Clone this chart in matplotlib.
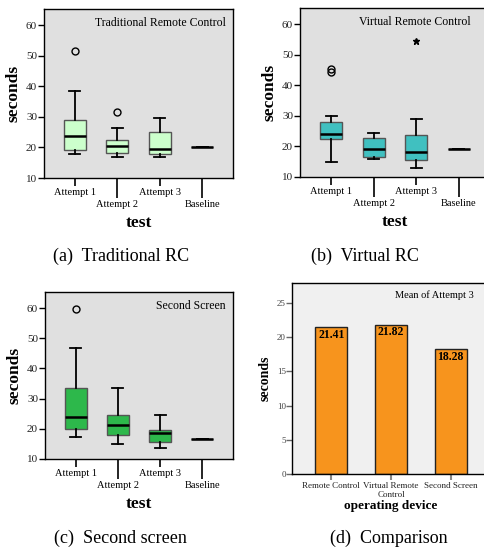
import matplotlib
matplotlib.use("Agg")
import matplotlib.pyplot as plt

plt.rcParams['font.family'] = ['Liberation Serif', 'DejaVu Serif']

W, H = 485, 554

# box statistics: whislo, q1, med, q3, whishi
groups = ['Attempt 1', 'Attempt 2', 'Attempt 3', 'Baseline']

trad_stats = [(17.8, 19.0, 23.8, 28.9, 38.4), (16.9, 18.2, 20.4, 22.3, 26.5),
              (16.9, 18.0, 19.4, 25.1, 29.5), (20.3, 20.3, 20.3, 20.3, 20.3)]
trad_out = [[51.5], [31.5], [], []]
trad_ext = [[], [], [], []]

virt_stats = [(14.8, 22.3, 24.1, 28.0, 29.8), (15.8, 16.7, 19.2, 22.9, 24.3),
              (13.0, 15.4, 18.2, 23.6, 28.9), (19.2, 19.2, 19.2, 19.2, 19.2)]
virt_out = [[45.3, 44.3], [], [], []]
virt_ext = [[], [], [54.5], []]

sec_stats = [(17.3, 20.0, 24.0, 33.4, 46.8), (15.0, 17.8, 21.1, 24.5, 33.4),
             (13.6, 15.5, 18.6, 19.6, 24.7), (16.5, 16.5, 16.5, 16.5, 16.5)]
sec_out = [[59.8], [], [], []]
sec_ext = [[], [], [], []]

devices = ['Remote Control', 'Virtual Remote\nControl', 'Second Screen']
mean_att3 = [21.41, 21.82, 18.28]

fig = plt.figure(figsize=(W / 100, H / 100), dpi=100)


def px_axes(l, t, r, b):
    return fig.add_axes([l / W, 1 - b / H, (r - l) / W, (b - t) / H])


def box_panel(ax, stats, outs, exts, color, title):
    ax.set_facecolor('#e0e0e0')
    bx = []
    for s, o in zip(stats, outs):
        bx.append(dict(whislo=s[0], q1=s[1], med=s[2], q3=s[3], whishi=s[4], fliers=o))
    ax.bxp(bx, positions=[1, 2, 3, 4], widths=0.52, patch_artist=True,
           boxprops=dict(facecolor=color, edgecolor='#555555', linewidth=1.0),
           medianprops=dict(color='black', linewidth=1.8),
           whiskerprops=dict(color='black', linewidth=1.3),
           capprops=dict(color='black', linewidth=1.3),
           capwidths=0.26,
           flierprops=dict(marker='o', markerfacecolor='none', markeredgecolor='black',
                           markersize=5, markeredgewidth=1.0))
    for i, e in enumerate(exts):
        if e:
            ax.plot([i + 1] * len(e), e, linestyle='none', marker='*', color='black',
                    markersize=4.5)
    ax.set_xlim(0.27, 4.73)
    ax.set_ylim(10, 65.3)
    ax.set_yticks([10, 20, 30, 40, 50, 60])
    ax.tick_params(axis='y', length=4.5, width=1.0, labelsize=8, pad=0.5,
                   labelcolor='#222222')
    ax.set_xticks([1, 3], [groups[0], groups[2]])
    ax.set_xticks([2, 4], [groups[1], groups[3]], minor=True)
    ax.tick_params(axis='x', which='major', length=6, width=1.2, labelsize=7.5, pad=1.5)
    ax.tick_params(axis='x', which='minor', length=14.5, width=1.2, labelsize=7.5, pad=1.5)
    ax.set_ylabel('seconds', fontsize=12.5, fontweight='bold', labelpad=3)
    ax.set_xlabel('test', fontsize=12.5, fontweight='bold', labelpad=4)
    ax.text(0.96, 0.95, title, transform=ax.transAxes, ha='right', va='top', fontsize=8.5)
    for sp in ax.spines.values():
        sp.set_linewidth(1.0)


ax_a = px_axes(44, 9, 233, 178)
box_panel(ax_a, trad_stats, trad_out, trad_ext, '#ccffcc', 'Traditional Remote Control')

ax_b = px_axes(300, 8, 490, 177)
box_panel(ax_b, virt_stats, virt_out, virt_ext, '#40c0c0', 'Virtual Remote Control')
ax_b.texts[0].set_position((0.9, 0.95))

ax_c = px_axes(45, 292, 233, 459)
box_panel(ax_c, sec_stats, sec_out, sec_ext, '#2db84b', 'Second Screen')

# comparison bars
ax_d = px_axes(292, 283, 490, 474)
ax_d.set_facecolor('#f0f0f0')
xs = [1, 2, 3]
bars = ax_d.bar(xs, mean_att3, width=0.54, color='#f7941d', edgecolor='#222222',
                linewidth=1.0)
for x, v in zip(xs, mean_att3):
    ax_d.text(x, v - 0.25, f'{v:.2f}', ha='center', va='top', fontsize=8.5, fontweight='bold')
ax_d.set_xlim(0.34, 3.66)
ax_d.set_ylim(0, 27.9)
ax_d.set_yticks([0, 5, 10, 15, 20, 25])
ax_d.set_xticks(xs, devices)
ax_d.tick_params(axis='y', length=4, width=1.0, color='#666666', labelsize=6.5,
                 labelcolor='#444444', pad=0.5)
ax_d.tick_params(axis='x', length=4, width=1.5, color='#888888', labelsize=6.5, pad=1.5,
                 labelcolor='#222222')
ax_d.set_ylabel('seconds', fontsize=10, fontweight='bold', labelpad=4)
ax_d.set_xlabel('operating device', fontsize=9.5, fontweight='bold', labelpad=1)
ax_d.text(0.92, 0.96, 'Mean of Attempt 3', transform=ax_d.transAxes, ha='right', va='top',
          fontsize=7.5)
for sp in ax_d.spines.values():
    sp.set_linewidth(1.0)

# captions
fig.text(121 / W, 1 - 256 / H, '(a)  Traditional RC', ha='center', va='center', fontsize=13)
fig.text(365 / W, 1 - 256 / H, '(b)  Virtual RC', ha='center', va='center', fontsize=13)
fig.text(120 / W, 1 - 538 / H, '(c)  Second screen', ha='center', va='center', fontsize=13)
fig.text(389 / W, 1 - 538 / H, '(d)  Comparison', ha='center', va='center', fontsize=13)

fig.savefig('out.png', dpi=100)
